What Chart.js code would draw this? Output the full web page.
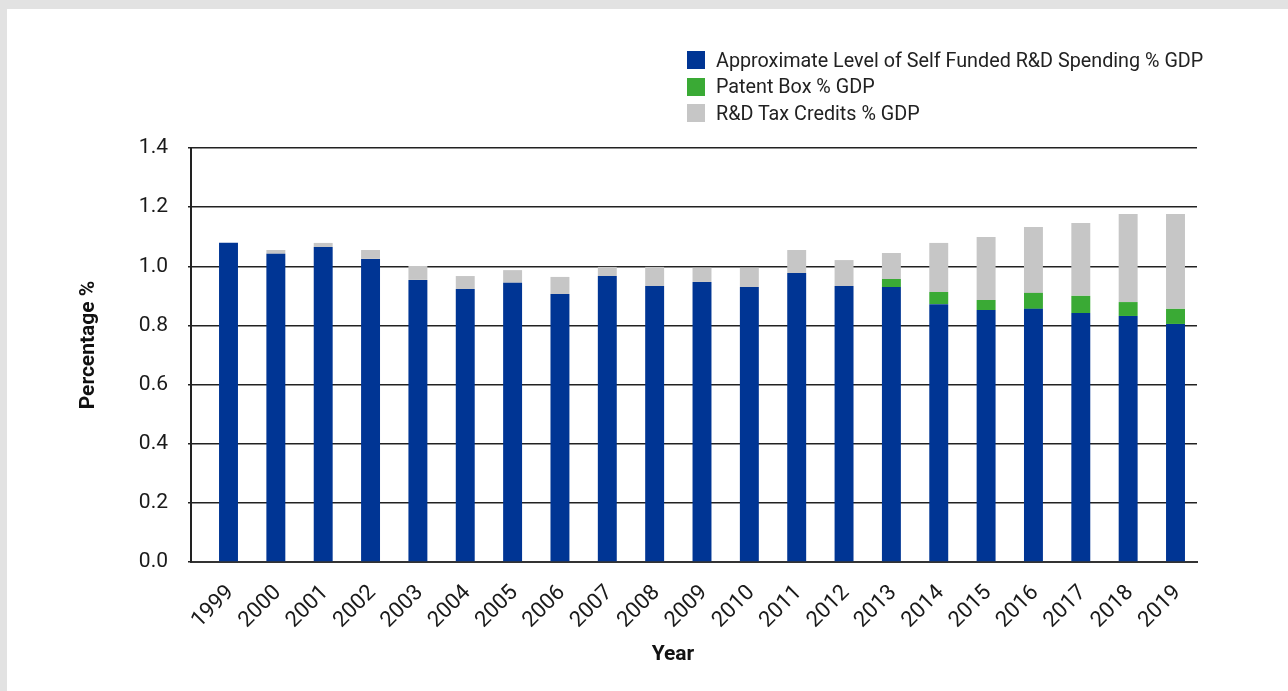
<!DOCTYPE html>
<html>
<head>
<meta charset="utf-8">
<script src="https://cdn.jsdelivr.net/npm/chart.js@4/dist/chart.umd.min.js"></script>
<style>
  html, body { margin: 0; padding: 0; width: 1288px; height: 691px; overflow: hidden; background: #e2e2e2; font-family: Roboto, "Noto Sans", sans-serif; }
  #card { position: absolute; left: 7px; top: 9px; right: 0; bottom: 0; background: #ffffff; }
  #wrap { position: absolute; left: 0; top: 0; width: 1288px; height: 691px; }
  #legend { position: absolute; left: 687px; top: 47px; }
  .item { display: flex; align-items: center; height: 26.5px; font-size: 19.75px; color: #222; white-space: nowrap; }
  .swatch { width: 18px; height: 18px; margin-right: 11px; flex: none; }
</style>
</head>
<body>
<div id="card"></div>
<div id="wrap"><canvas id="chart" width="1288" height="691"></canvas></div>
<div id="legend"></div>
<script>
// Years on the horizontal axis
const years = [1999, 2000, 2001, 2002, 2003, 2004, 2005, 2006, 2007, 2008, 2009,
               2010, 2011, 2012, 2013, 2014, 2015, 2016, 2017, 2018, 2019];

// Stacked segments, % of GDP
const selfFunded = [1.080, 1.042, 1.065, 1.025, 0.954, 0.923, 0.944, 0.906, 0.967, 0.933, 0.947,
                    0.930, 0.977, 0.933, 0.930, 0.872, 0.852, 0.856, 0.842, 0.832, 0.805];
const patentBox  = [0, 0, 0, 0, 0, 0, 0, 0, 0, 0, 0,
                    0, 0, 0, 0.027, 0.041, 0.034, 0.054, 0.058, 0.047, 0.051];
const taxCredits = [0, 0.013, 0.014, 0.030, 0.047, 0.044, 0.043, 0.058, 0.031, 0.065, 0.048,
                    0.065, 0.078, 0.088, 0.088, 0.166, 0.213, 0.223, 0.246, 0.298, 0.321];

const seriesNames = [
  'Approximate Level of Self Funded R&D Spending % GDP',
  'Patent Box % GDP',
  'R&D Tax Credits % GDP'
];
const seriesColors = ['#003594', '#3aaa35', '#c6c6c6'];

// Axis range and ticks
const yMin = 0, yMax = 1.4, yStep = 0.2;
const xTitle = 'Year';
const yTitle = 'Percentage %';

const toPoints = (vals) => vals.map((v, i) => ({ x: years[i], y: v }));

const FONT = 'Roboto, "Noto Sans", sans-serif';

// Axis captions placed beside the plot
const axisCaptions = {
  id: 'axisCaptions',
  afterDraw(chart) {
    const { ctx } = chart;
    ctx.save();
    ctx.font = 'bold 21px ' + FONT;
    ctx.fillStyle = '#111';
    ctx.textAlign = 'center';
    ctx.textBaseline = 'middle';
    ctx.fillText(xTitle, 673, 655);
    ctx.translate(89, 345);
    ctx.rotate(-Math.PI / 2);
    ctx.fillText(yTitle, 0, 0);
    ctx.restore();
  }
};

const datasets = [selfFunded, patentBox, taxCredits].map((vals, i) => ({
  label: seriesNames[i],
  data: toPoints(vals),
  backgroundColor: seriesColors[i],
  borderWidth: 0,
  barPercentage: 0.4,
  categoryPercentage: 1.0
}));

const chart = new Chart(document.getElementById('chart'), {
  type: 'bar',
  data: { datasets },
  plugins: [axisCaptions],
  options: {
    responsive: false,
    animation: false,
    devicePixelRatio: 1,
    layout: { padding: { left: 70, top: 148, right: 91, bottom: 0 } },
    plugins: { legend: { display: false }, tooltip: { enabled: false } },
    scales: {
      x: {
        type: 'linear',
        stacked: true,
        offset: false,
        min: 1998.208,
        max: 2019.454,
        afterFit: (s) => { s.height = 129; },
        grid: { display: false, drawTicks: false },
        border: { display: true, color: '#333', width: 2 },
        ticks: {
          stepSize: 1,
          includeBounds: false,
          autoSkip: false,
          minRotation: 45,
          maxRotation: 45,
          padding: 18,
          labelOffset: 2,
          color: '#1a1a1a',
          font: { family: FONT, size: 22 },
          callback: (v) => String(v)
        }
      },
      y: {
        stacked: true,
        min: yMin,
        max: yMax,
        z: 1,
        afterFit: (s) => { s.width = 121; },
        grid: { color: '#222', lineWidth: 1.5, tickLength: 3 },
        border: { display: true, color: '#222', width: 2 },
        ticks: {
          stepSize: yStep,
          padding: 20,
          color: '#1a1a1a',
          font: { family: FONT, size: 21 },
          callback: (v) => Number(v).toFixed(1)
        }
      }
    }
  }
});

// Legend list built from the datasets
const legend = document.getElementById('legend');
chart.data.datasets.forEach((ds) => {
  const row = document.createElement('div');
  row.className = 'item';
  const sw = document.createElement('span');
  sw.className = 'swatch';
  sw.style.background = ds.backgroundColor;
  const label = document.createElement('span');
  label.textContent = ds.label;
  row.appendChild(sw);
  row.appendChild(label);
  legend.appendChild(row);
});
</script>
</body>
</html>
